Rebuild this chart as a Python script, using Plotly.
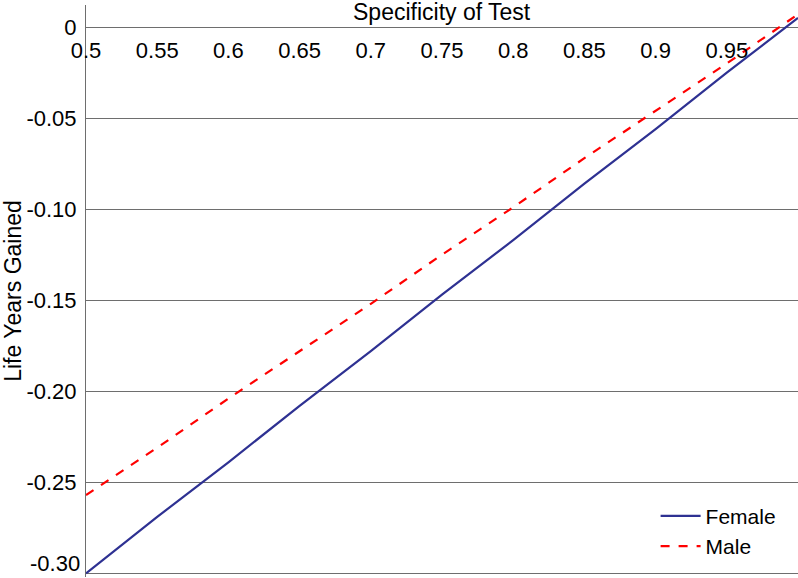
import plotly.graph_objects as go

specificity = [0.5, 0.55, 0.6, 0.65, 0.7, 0.75, 0.8, 0.85, 0.9, 0.95, 1.0]
female = [-0.300, -0.269, -0.239, -0.208, -0.178, -0.147, -0.117, -0.086, -0.056, -0.025, 0.005]
male = [-0.257, -0.231, -0.204, -0.178, -0.152, -0.125, -0.099, -0.072, -0.046, -0.020, 0.007]

x_ticks = [0.5, 0.55, 0.6, 0.65, 0.7, 0.75, 0.8, 0.85, 0.9, 0.95, 1.0]
x_ticktext = ["0.5", "0.55", "0.6", "0.65", "0.7", "0.75", "0.8", "0.85", "0.9", "0.95", "1"]
y_ticks = [0, -0.05, -0.10, -0.15, -0.20, -0.25, -0.30]
y_ticktext = ["0", "-0.05", "-0.10", "-0.15", "-0.20", "-0.25", "-0.30"]

FONT = "Liberation Sans, Arial, sans-serif"

fig = go.Figure()
fig.add_trace(go.Scatter(x=specificity, y=female, mode="lines", name="Female",
                         line=dict(color="#2E3192", width=2.2)))
fig.add_trace(go.Scatter(x=specificity, y=male, mode="lines", name="Male",
                         line=dict(color="#FF0000", width=2.2, dash="dash")))

# the bottom tick label sits above its gridline (as in the reference), so it is drawn as an annotation
axis_ticktext = y_ticktext[:-1] + [""]

y_min, y_max = -0.302, 0.0121
fig.update_layout(
    width=798, height=578,
    margin=dict(l=86, r=0, t=5, b=1),
    paper_bgcolor="white", plot_bgcolor="white",
    font=dict(family=FONT, size=22, color="black"),
    showlegend=True,
    legend=dict(x=0.80, y=0.080, xanchor="left", yanchor="middle",
                bgcolor="rgba(0,0,0,0)", font=dict(size=21), tracegroupgap=0,
                itemwidth=40),
    xaxis=dict(range=[0.5, 1.0], tickvals=x_ticks, ticktext=x_ticktext,
               showgrid=False, zeroline=False, showline=False,
               anchor="free", position=(0 - y_min) / (y_max - y_min),
               side="bottom", ticks="", ticklabelstandoff=8,
               tickfont=dict(size=22), automargin=False),
    yaxis=dict(range=[y_min, y_max], tickvals=y_ticks, ticktext=axis_ticktext,
               showgrid=True, gridcolor="#6E6E6E", gridwidth=1,
               zeroline=False, showline=True, linecolor="#6E6E6E", linewidth=1,
               ticks="", tickfont=dict(size=22), automargin=False,
               ticklabelstandoff=4,
               title=dict(text="Life Years Gained", font=dict(size=23), standoff=4)),
    annotations=[
        dict(text="Specificity of Test", x=0.75, y=1.0, xref="x", yref="paper",
             xanchor="center", yanchor="middle", yshift=-7, showarrow=False,
             font=dict(size=23)),
        dict(text=y_ticktext[-1], x=0, xref="paper", y=y_ticks[-1], yref="y",
             xanchor="right", yanchor="bottom", xshift=-4, yshift=-5,
             showarrow=False, font=dict(size=22)),
    ],
)

fig.write_html("out.html", config={"displayModeBar": False},
               post_script="document.body.style.margin='0';")
